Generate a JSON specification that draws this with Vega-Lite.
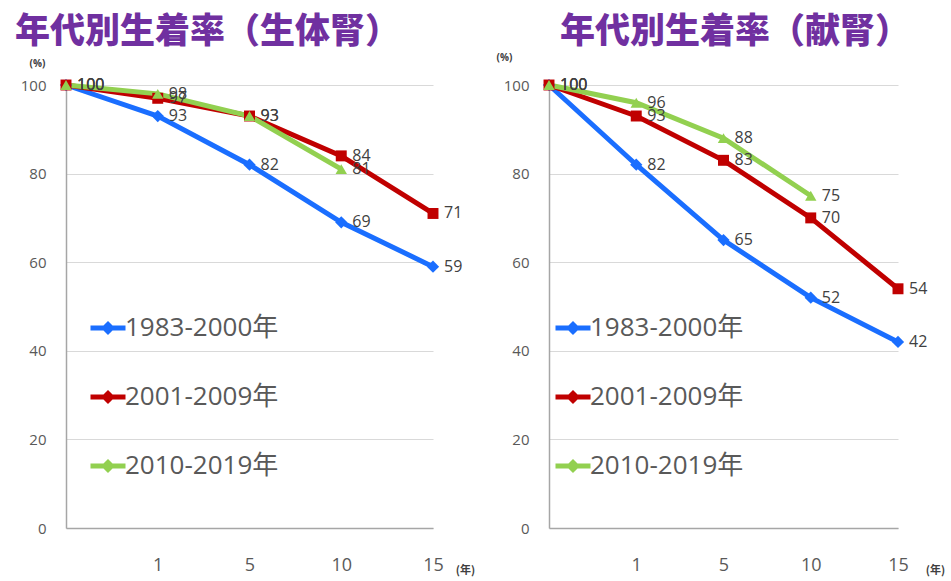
{
  "$schema": "https://vega.github.io/schema/vega-lite/v6.json",
  "autosize": {"type": "pad"},
  "padding": {"left": 15, "top": 15, "right": 7, "bottom": 5},
  "background": "white",
  "spacing": 116,
  "bounds": "flush",
  "config": {
    "view": {"stroke": null},
    "font": "Open Sans",
    "title": {"font": "Noto Sans CJK JP", "fontSize": 35, "fontWeight": 900, "color": "#7030A0", "frame": "group"}
  },
  "datasets": {
    "live": [
      {"series": "1983-2000年", "yr": "0", "value": 100},
      {"series": "1983-2000年", "yr": "1", "value": 93},
      {"series": "1983-2000年", "yr": "5", "value": 82},
      {"series": "1983-2000年", "yr": "10", "value": 69},
      {"series": "1983-2000年", "yr": "15", "value": 59},
      {"series": "2001-2009年", "yr": "0", "value": 100},
      {"series": "2001-2009年", "yr": "1", "value": 97},
      {"series": "2001-2009年", "yr": "5", "value": 93},
      {"series": "2001-2009年", "yr": "10", "value": 84},
      {"series": "2001-2009年", "yr": "15", "value": 71},
      {"series": "2010-2019年", "yr": "0", "value": 100},
      {"series": "2010-2019年", "yr": "1", "value": 98},
      {"series": "2010-2019年", "yr": "5", "value": 93},
      {"series": "2010-2019年", "yr": "10", "value": 81}
    ],
    "deceased": [
      {"series": "1983-2000年", "yr": "0", "value": 100},
      {"series": "1983-2000年", "yr": "1", "value": 82},
      {"series": "1983-2000年", "yr": "5", "value": 65},
      {"series": "1983-2000年", "yr": "10", "value": 52},
      {"series": "1983-2000年", "yr": "15", "value": 42},
      {"series": "2001-2009年", "yr": "0", "value": 100},
      {"series": "2001-2009年", "yr": "1", "value": 93},
      {"series": "2001-2009年", "yr": "5", "value": 83},
      {"series": "2001-2009年", "yr": "10", "value": 70},
      {"series": "2001-2009年", "yr": "15", "value": 54},
      {"series": "2010-2019年", "yr": "0", "value": 100},
      {"series": "2010-2019年", "yr": "1", "value": 96},
      {"series": "2010-2019年", "yr": "5", "value": 88},
      {"series": "2010-2019年", "yr": "10", "value": 75}
    ]
  },
  "resolve": {"scale": {"color": "independent", "x": "independent", "y": "independent"}, "legend": {"color": "independent"}},
  "hconcat": [
    {
      "width": 367,
      "height": 443,
      "title": {"text": "年代別生着率（生体腎）", "anchor": "start", "dx": -51, "offset": 8},
      "data": {"name": "live"},
      "encoding": {
        "x": {"field": "yr", "type": "ordinal", "sort": ["0", "1", "5", "10", "15"], "scale": {"type": "point", "padding": 0},
          "axis": {"labelAngle": 0, "labelExpr": "datum.value == '0' ? '' : datum.value", "ticks": false, "domainColor": "#a6a6a6", "domainWidth": 1.5, "labelPadding": 28, "labelFontSize": 18, "labelColor": "#595959", "grid": false,
            "title": "(年)", "titleX": 399, "titleY": 42, "titleAlign": "center", "titleBaseline": "middle", "titleFontSize": 11, "titleFontWeight": "bold", "titleColor": "#404040", "titleFont": "Noto Sans CJK JP"}},
        "y": {"field": "value", "type": "quantitative", "scale": {"domain": [0, 100]},
          "axis": {"values": [0, 20, 40, 60, 80, 100], "ticks": false, "domainColor": "#a6a6a6", "domainWidth": 1.5, "gridColor": "#d9d9d9", "labelPadding": 20, "labelFontSize": 15, "labelColor": "#595959",
            "title": "(%)", "titleAngle": 0, "titleX": -29, "titleY": -22, "titleAlign": "center", "titleBaseline": "middle", "titleFontSize": 10, "titleFontWeight": "bold", "titleColor": "#404040"}}
      },
      "layer": [
        {"mark": {"type": "line", "strokeWidth": 5},
          "encoding": {"color": {"field": "series", "type": "nominal", "scale": {"domain": ["1983-2000年", "2001-2009年", "2010-2019年"], "range": ["#1A6EFF", "#C00000", "#92D050"]},
            "legend": {"title": null, "orient": "none", "legendX": 22, "legendY": 223, "padding": 0, "rowPadding": 35, "symbolType": "M-1,0H1M0,-0.2L0.2,0L0,0.2L-0.2,0Z", "symbolSize": 1225, "symbolStrokeWidth": 5, "labelFontSize": 26, "labelColor": "#595959", "labelFont": "Open Sans, Noto Sans CJK JP", "labelOffset": -3}}}},
        {"transform": [{"filter": "datum.series == '1983-2000年'"}], "mark": {"type": "point", "shape": "diamond", "filled": true, "size": 150, "opacity": 1, "color": "#1A6EFF"}},
        {"transform": [{"filter": "datum.series == '2001-2009年'"}], "mark": {"type": "point", "shape": "square", "filled": true, "size": 120, "opacity": 1, "color": "#C00000"}},
        {"transform": [{"filter": "datum.series == '2010-2019年'"}], "mark": {"type": "point", "shape": "triangle-up", "filled": true, "size": 130, "opacity": 1, "color": "#92D050"}},
        {"mark": {"type": "text", "align": "left", "baseline": "middle", "dx": 11, "fontSize": 16, "color": "#404040"},
          "encoding": {"text": {"field": "value", "type": "quantitative"}}}
      ]
    },
    {
      "width": 349,
      "height": 443,
      "title": {"text": "年代別生着率（献腎）", "anchor": "start", "dx": 11, "offset": 2},
      "data": {"name": "deceased"},
      "encoding": {
        "x": {"field": "yr", "type": "ordinal", "sort": ["0", "1", "5", "10", "15"], "scale": {"type": "point", "padding": 0},
          "axis": {"labelAngle": 0, "labelExpr": "datum.value == '0' ? '' : datum.value", "ticks": false, "domainColor": "#a6a6a6", "domainWidth": 1.5, "labelPadding": 28, "labelFontSize": 18, "labelColor": "#595959", "grid": false,
            "title": "(年)", "titleX": 386, "titleY": 42, "titleAlign": "center", "titleBaseline": "middle", "titleFontSize": 11, "titleFontWeight": "bold", "titleColor": "#404040", "titleFont": "Noto Sans CJK JP"}},
        "y": {"field": "value", "type": "quantitative", "scale": {"domain": [0, 100]},
          "axis": {"values": [0, 20, 40, 60, 80, 100], "ticks": false, "domainColor": "#a6a6a6", "domainWidth": 1.5, "gridColor": "#d9d9d9", "labelPadding": 20, "labelFontSize": 15, "labelColor": "#595959",
            "title": "(%)", "titleAngle": 0, "titleX": -45, "titleY": -28, "titleAlign": "center", "titleBaseline": "middle", "titleFontSize": 10, "titleFontWeight": "bold", "titleColor": "#404040"}}
      },
      "layer": [
        {"mark": {"type": "line", "strokeWidth": 5},
          "encoding": {"color": {"field": "series", "type": "nominal", "scale": {"domain": ["1983-2000年", "2001-2009年", "2010-2019年"], "range": ["#1A6EFF", "#C00000", "#92D050"]},
            "legend": {"title": null, "orient": "none", "legendX": 4, "legendY": 223, "padding": 0, "rowPadding": 35, "symbolType": "M-1,0H1M0,-0.2L0.2,0L0,0.2L-0.2,0Z", "symbolSize": 1225, "symbolStrokeWidth": 5, "labelFontSize": 26, "labelColor": "#595959", "labelFont": "Open Sans, Noto Sans CJK JP", "labelOffset": -3}}}},
        {"transform": [{"filter": "datum.series == '1983-2000年'"}], "mark": {"type": "point", "shape": "diamond", "filled": true, "size": 150, "opacity": 1, "color": "#1A6EFF"}},
        {"transform": [{"filter": "datum.series == '2001-2009年'"}], "mark": {"type": "point", "shape": "square", "filled": true, "size": 120, "opacity": 1, "color": "#C00000"}},
        {"transform": [{"filter": "datum.series == '2010-2019年'"}], "mark": {"type": "point", "shape": "triangle-up", "filled": true, "size": 130, "opacity": 1, "color": "#92D050"}},
        {"mark": {"type": "text", "align": "left", "baseline": "middle", "dx": 11, "fontSize": 16, "color": "#404040"},
          "encoding": {"text": {"field": "value", "type": "quantitative"}}}
      ]
    }
  ]
}
